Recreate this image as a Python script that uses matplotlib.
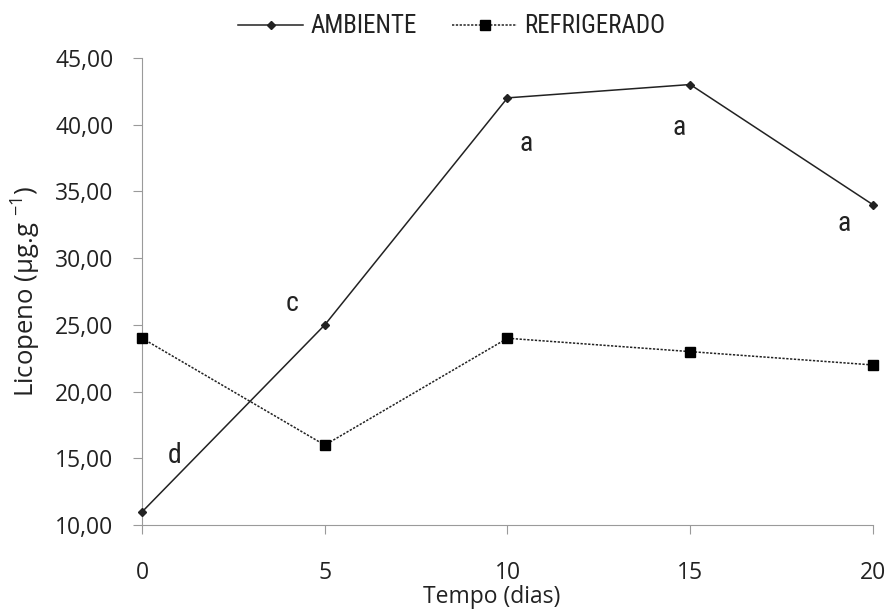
import matplotlib.pyplot as plt
from matplotlib import font_manager as fm

dias = [0, 5, 10, 15, 20]
ambiente = [11.0, 25.0, 42.0, 43.0, 34.0]
refrigerado = [24.0, 16.0, 24.0, 23.0, 22.0]
y_ticks = [10, 15, 20, 25, 30, 35, 40, 45]
y_labels = ["10,00", "15,00", "20,00", "25,00", "30,00", "35,00", "40,00", "45,00"]

# letras de significancia (x, y, texto)
letras_x = [0.9, 4.1, 10.5, 14.7, 19.2]
letras_y = [15.2, 26.6, 38.6, 39.8, 32.6]
letras = ["d", "c", "a", "a", "a"]

# fonte estreita se houver (o original parece Calibri comprimido)
nomes = {f.name for f in fm.fontManager.ttflist}
estreita = "Open Sans"
for n in ["Liberation Sans Narrow", "DejaVu Sans Condensed", "Roboto Condensed", "Open Sans Condensed"]:
    if n in nomes:
        estreita = n
        break

plt.rcParams['font.family'] = ['Open Sans', 'DejaVu Sans']
plt.rcParams['mathtext.fontset'] = 'custom'
plt.rcParams['mathtext.rm'] = 'Open Sans'
plt.rcParams['mathtext.default'] = 'regular'

fig = plt.figure(figsize=(8.88, 6.15), dpi=100)
ax = fig.add_axes([0.16, 0.146, 0.823, 0.76])

ax.plot(dias, ambiente, color="#222222", linewidth=1.1, marker="D",
        markersize=4.5, label="AMBIENTE", clip_on=False, zorder=3)
ax.plot(dias, refrigerado, color="#222222", linewidth=1.1, linestyle=(0, (1.5, 1)),
        marker="s", markersize=7, markerfacecolor="black", markeredgecolor="black",
        label="REFRIGERADO", clip_on=False, zorder=3)

for lx, ly, t in zip(letras_x, letras_y, letras):
    ax.text(lx, ly, t, fontsize=20, ha="center", va="center", color="#222222",
            family=[estreita, "DejaVu Sans"])

ax.set_xlim(0, 20)
ax.set_ylim(10, 45)
ax.set_xticks(dias)
ax.set_xticklabels([str(d) for d in dias], fontsize=16.5)
ax.set_yticks(y_ticks)
ax.set_yticklabels(y_labels, fontsize=16.5)

for s in ["top", "right"]:
    ax.spines[s].set_visible(False)
for s in ["left", "bottom"]:
    ax.spines[s].set_color("#9a9a9a")
ax.tick_params(axis="both", direction="out", length=6.5, color="#9a9a9a",
               labelcolor="#222222")
ax.tick_params(axis="y", pad=14)
ax.tick_params(axis="x", pad=19)

ax.set_xlabel("Tempo (dias)", fontsize=16.5, color="#222222")
ax.xaxis.set_label_coords(0.479, -0.128)
ax.set_ylabel("Licopeno (µg.g $^{-1}$)", fontsize=18.5, color="#222222", labelpad=9)

leg = ax.legend(loc="lower center", bbox_to_anchor=(0.424, 1.02), ncol=2, frameon=False,
                prop={"family": [estreita, "DejaVu Sans"], "size": 18},
                handlelength=2.6, columnspacing=1.4, handletextpad=0.3,
                borderaxespad=0.0)
for t in leg.get_texts():
    t.set_color("#222222")

plt.savefig("out.png", dpi=100)
